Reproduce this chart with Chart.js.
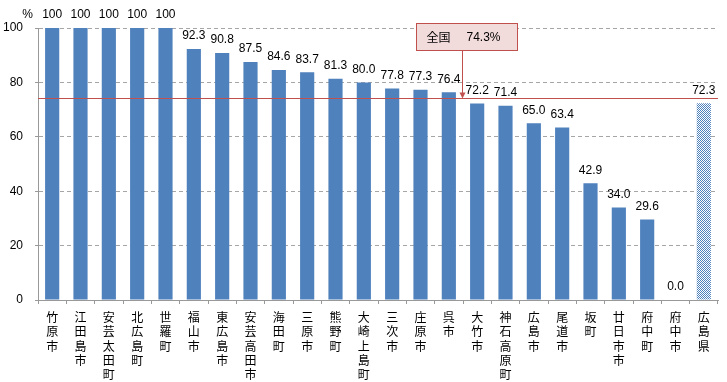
<!DOCTYPE html>
<html><head><meta charset="utf-8">
<script src="https://cdn.jsdelivr.net/npm/chart.js@4/dist/chart.umd.min.js"></script>
<style>html,body{margin:0;padding:0;background:#fff}#wrap{width:727px;height:382px}</style>
</head><body><div id="wrap"><canvas id="c" width="727" height="382"></canvas></div>
<script>
const categories = ["竹原市","江田島市","安芸太田町","北広島町","世羅町","福山市","東広島市","安芸高田市","海田町","三原市","熊野町","大崎上島町","三次市","庄原市","呉市","大竹市","神石高原町","広島市","尾道市","坂町","廿日市市","府中町","府中市","広島県"];
const values = [100,100,100,100,100,92.3,90.8,87.5,84.6,83.7,81.3,80.0,77.8,77.3,76.4,72.2,71.4,65.0,63.4,42.9,34.0,29.6,0.0,72.3];
const valueLabels = ["100","100","100","100","100","92.3","90.8","87.5","84.6","83.7","81.3","80.0","77.8","77.3","76.4","72.2","71.4","65.0","63.4","42.9","34.0","29.6","0.0","72.3"];
const yTicks = [0,20,40,60,80,100];
const nationalLabel = "全国";
const nationalValue = 74.3;
const unitLabel = "%";

const BLUE = '#4f81bd';
const RED = '#c0504d';
const NUMFONT = '12px "Liberation Sans", Arial, sans-serif';
const JPFONT = '"Noto Sans CJK JP", sans-serif';

function makePattern(){
  const p = document.createElement('canvas'); p.width = 2; p.height = 2;
  const g = p.getContext('2d');
  g.fillStyle = '#ffffff'; g.fillRect(0,0,2,2);
  g.fillStyle = BLUE; g.fillRect(0,0,1,1); g.fillRect(1,1,1,1);
  return document.getElementById('c').getContext('2d').createPattern(p,'repeat');
}
const pat = makePattern();
const colors = categories.map((c,i)=> i === categories.length-1 ? pat : BLUE);

const overlay = {
  id:'overlay',
  afterDatasetsDraw(chart){
    const ctx = chart.ctx, xs = chart.scales.x, ys = chart.scales.y, ca = chart.chartArea;
    const meta = chart.getDatasetMeta(0);
    ctx.save();
    const yN = Math.round(ys.getPixelForValue(nationalValue)) + 0.5;
    ctx.strokeStyle = RED; ctx.lineWidth = 1;
    ctx.beginPath(); ctx.moveTo(ca.left, yN); ctx.lineTo(ca.right, yN); ctx.stroke();
    ctx.fillStyle = '#000'; ctx.font = NUMFONT; ctx.textAlign = 'center'; ctx.textBaseline = 'middle';
    meta.data.forEach((bar,i)=>{
      ctx.fillText(valueLabels[i], bar.x, ys.getPixelForValue(values[i]) - 13);
    });
    ctx.textAlign = 'right';
    ctx.fillText(unitLabel, ca.left - 5, ys.getPixelForValue(100) - 13);
    const ax = Math.round((xs.getPixelForValue(14) + xs.getPixelForValue(15)) / 2) - 0.5;
    const bx = ax - 46, by = 23.5, bw = 101, bh = 27;
    ctx.fillStyle = '#f2dcdb'; ctx.fillRect(bx, by, bw, bh);
    ctx.strokeStyle = RED; ctx.strokeRect(bx, by, bw, bh);
    ctx.beginPath(); ctx.moveTo(ax, by + bh); ctx.lineTo(ax, yN - 5); ctx.stroke();
    ctx.fillStyle = RED;
    ctx.beginPath(); ctx.moveTo(ax - 3, yN - 6); ctx.lineTo(ax + 3, yN - 6); ctx.lineTo(ax, yN); ctx.closePath(); ctx.fill();
    ctx.fillStyle = '#000'; ctx.textAlign = 'left'; ctx.textBaseline = 'middle';
    ctx.font = '12px ' + JPFONT;
    ctx.fillText(nationalLabel, bx + 10, by + bh/2 + 0.5);
    ctx.font = '12px "Liberation Sans", Arial, sans-serif';
    ctx.fillText(nationalValue.toFixed(1) + '%', bx + 50, by + bh/2 + 0.5);
    ctx.restore();
  }
};

new Chart(document.getElementById('c'), {
  type:'bar',
  data:{
    labels: categories.map(s => Array.from(s)),
    datasets:[{ data: values, backgroundColor: colors, borderWidth:0, barPercentage:0.5, categoryPercentage:1.0 }]
  },
  options:{
    responsive:false, animation:false, devicePixelRatio:1,
    layout:{ padding:{ left:0, right:9, top:28, bottom:0 } },
    plugins:{ legend:{display:false}, tooltip:{enabled:false} },
    scales:{
      x:{
        offset:true,
        grid:{ display:true, drawOnChartArea:false, drawTicks:true, tickLength:4, offset:true, color:'#999' },
        border:{ color:'#999', width:1 },
        ticks:{ autoSkip:false, maxRotation:0, minRotation:0, color:'#000', padding:6,
          font:{ family: JPFONT, size:12, lineHeight:1.2 } },
        afterFit(s){ s.height = 82; }
      },
      y:{
        min:0, max:100,
        afterBuildTicks(s){ s.ticks = yTicks.map(v=>({value:v})); },
        grid:{ color:'#a6a6a6', drawTicks:true, tickLength:3, tickColor:'#999', tickBorderDash:[] },
        border:{ color:'#999', width:1, dash:[4,3] },
        ticks:{ color:'#000', padding:12, font:{ family:'"Liberation Sans", Arial, sans-serif', size:12 } },
        afterFit(s){ s.width = 38; }
      }
    }
  },
  plugins:[overlay]
});
</script>
</body></html>
